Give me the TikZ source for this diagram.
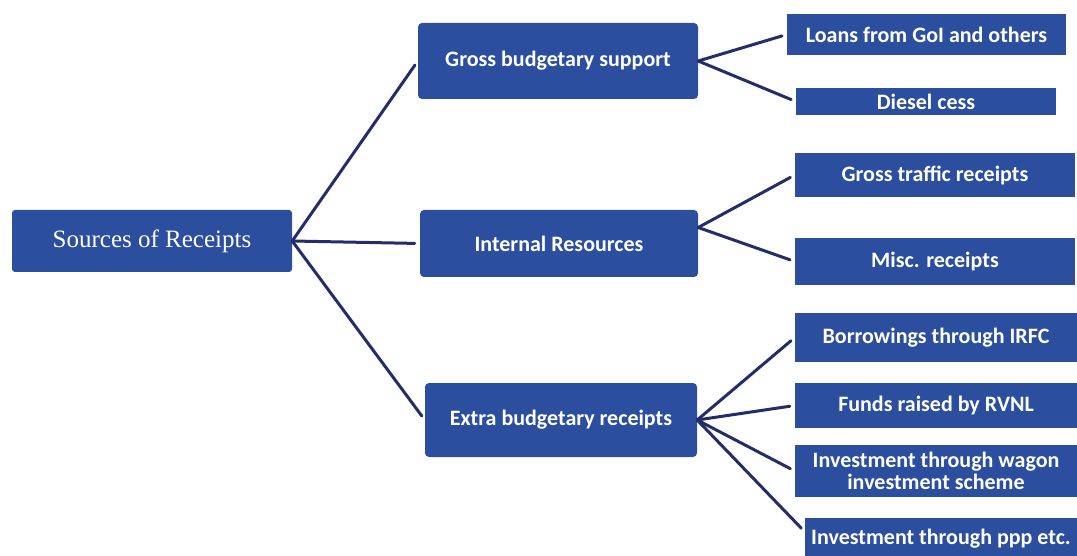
\documentclass[tikz,border=0pt]{standalone}
\usepackage{fontspec}
\setmainfont{Carlito}
\newfontfamily\rootfont{Liberation Serif}
\definecolor{boxblue}{RGB}{44,78,158}
\definecolor{linknavy}{RGB}{35,45,108}
\begin{document}
\begin{tikzpicture}[x=1pt,y=-1pt,
  box/.style={fill=boxblue,text=white,inner sep=0pt,align=center,
    font=\bfseries\fontsize{22}{22}\selectfont},
  midbox/.style={box,rounded corners=4pt},
  link/.style={draw=linknavy,line width=3pt,line cap=round,shorten >=5pt}]
\useasboundingbox (0,0) rectangle (1077,556);
% root and the three heads
\node[box,rounded corners=3pt,minimum width=280,minimum height=62,
  font=\rootfont\fontsize{25}{27}\selectfont] (src) at (152,241) {Sources of Receipts};
\node[midbox,minimum width=280,minimum height=76] (gbs) at (558,61) {Gross budgetary support};
\node[midbox,minimum width=278,minimum height=67] (ir) at (559,243.5) {Internal Resources};
\node[midbox,minimum width=272,minimum height=74] (ebr) at (561,420) {Extra budgetary receipts};
% right column
\foreach \n/\cx/\cy/\w/\h/\t in {
    loans/926.5/34.5/279/41/{Loans from GoI and others},
    diesel/926/101.5/260/27/{Diesel cess},
    traffic/935/175/280/44/{Gross traffic receipts},
    misc/935/261.5/280/47/{Misc. receipts},
    irfc/936/337.5/282/49/{Borrowings through IRFC},
    rvnl/936/405.5/282/45/{Funds raised by RVNL},
    wagon/936/471/282/52/{Investment through wagon\\investment scheme},
    ppp/941/539/272/42/{Investment through ppp etc.}} {
  \node[box,minimum width=\w,minimum height=\h] (\n) at (\cx,\cy) {\t};
}
% connectors
\foreach \c in {gbs,ir,ebr}
  \draw[link] (src.east) -- (\c.west);
\foreach \c in {loans,diesel}
  \draw[link] (gbs.east) -- (\c.west);
\coordinate (irfan) at ([yshift=16pt]ir.east);
\foreach \c in {traffic,misc}
  \draw[link] (irfan) -- (\c.west);
\foreach \c in {irfc,rvnl,wagon}
  \draw[link] (ebr.east) -- (\c.west);
\draw[link] (ebr.east) -- (ppp.177);
\end{tikzpicture}
\end{document}
